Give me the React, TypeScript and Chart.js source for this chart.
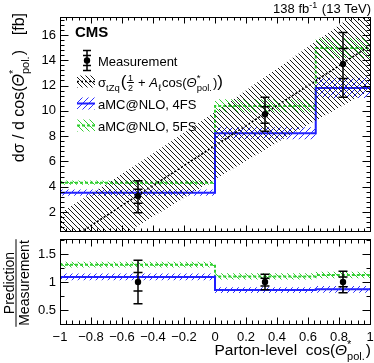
import React, { useEffect, useRef } from "react";
import { Chart, registerables } from "chart.js";
Chart.register(...registerables);

// ---------- data ----------
const binEdges = [-1, 0, 0.65, 1];
const measX = [-0.5, 0.325, 0.825];
const measY = [3.27, 9.73, 13.71];
const measTotUp = [1.21, 1.34, 2.49];
const measTotDown = [1.32, 1.34, 2.64];
const measStatUp = [0.53, 0.6, 1.21];
const measStatDown = [0.57, 0.71, 1.16];

const pred4FS = [3.53, 8.23, 11.81];
const pred4FSErr = [0.25, 0.48, 0.8];
const pred5FS = [4.32, 10.39, 14.97];
const pred5FSErr = [0.17, 0.53, 0.8];

const theoryX = [-1, -0.5, 0, 0.5, 1];
const theoryCentral = [-0.65, 3.3, 7.25, 11.2, 15.15];
const theoryUp = [1.9, 5.8, 9.9, 14.2, 18.5];
const theoryDown = [-3.3, 0.9, 4.6, 8.2, 11.6];

const ratio4FS = [1.09, 0.855, 0.87];
const ratio4FSErr = [0.06, 0.05, 0.06];
const ratio5FS = [1.31, 1.1, 1.125];
const ratio5FSErr = [0.05, 0.055, 0.06];
const ratioMeas = [1, 1, 1];
const ratioTotUp = [0.39, 0.14, 0.19];
const ratioTotDown = [0.39, 0.14, 0.19];
const ratioStatUp = [0.17, 0.065, 0.09];
const ratioStatDown = [0.16, 0.07, 0.085];

const xTicks = [-1, -0.8, -0.6, -0.4, -0.2, 0, 0.2, 0.4, 0.6, 0.8, 1];
const xTickLabels = ["−1", "−0.8", "−0.6", "−0.4", "−0.2", "0", "0.2", "0.4", "0.6", "0.8", "1"];
const upperYTicks = [2, 4, 6, 8, 10, 12, 14, 16];
const upperYTickLabels = ["2", "4", "6", "8", "10", "12", "14", "16"];
const lowerYTicks = [0.5, 1, 1.5];
const lowerYTickLabels = ["0.5", "1", "1.5"];

// ---------- styles ----------
const FF = '"Liberation Sans", Arial, Helvetica, sans-serif';
const BLUE = "#1f1fff";
const GREEN = "#2fd02f";

function makeHatch(color: string, s: number, dir: "back" | "fwd", lw = 1) {
  const c = document.createElement("canvas");
  c.width = s;
  c.height = s;
  const g = c.getContext("2d")!;
  g.strokeStyle = color;
  g.lineWidth = lw;
  g.beginPath();
  for (const k of [-1, 0, 1]) {
    if (dir === "back") {
      g.moveTo(k * s, 0);
      g.lineTo(k * s + s, s);
    } else {
      g.moveTo(k * s, s);
      g.lineTo(k * s + s, 0);
    }
  }
  g.stroke();
  return g.createPattern(c, "repeat")!;
}

const stepData = (vals: number[]) =>
  binEdges.map((x, i) => ({ x, y: vals[Math.max(0, i - 1)] }));

function bandDatasets(vals: number[], errs: number[], pattern: any, lineColor: string, dash: number[]) {
  return [
    { data: stepData(vals.map((v, i) => v + errs[i])), stepped: "after", borderWidth: 0, borderColor: "rgba(0,0,0,0)", pointRadius: 0, fill: false },
    { data: stepData(vals.map((v, i) => v - errs[i])), stepped: "after", borderWidth: 0, borderColor: "rgba(0,0,0,0)", pointRadius: 0, fill: "-1", backgroundColor: pattern },
    { data: stepData(vals), stepped: "after", borderWidth: 2, borderColor: lineColor, borderDash: dash, pointRadius: 0, fill: false },
  ];
}

// ---------- rich text ----------
type Seg = { t?: string; size: number; italic?: boolean; bold?: boolean; sup?: string; sub?: string; supDy?: number; subDy?: number; frac?: [string, string] };
const fnt = (s: { size: number; italic?: boolean; bold?: boolean }) =>
  `${s.italic ? "italic " : ""}${s.bold ? "bold " : ""}${s.size}px ${FF}`;

function segW(ctx: CanvasRenderingContext2D, s: Seg) {
  ctx.font = fnt(s);
  if (s.frac) return Math.max(ctx.measureText(s.frac[0]).width, ctx.measureText(s.frac[1]).width) + 3;
  if (s.sup !== undefined || s.sub !== undefined)
    return Math.max(s.sup ? ctx.measureText(s.sup).width : 0, s.sub ? ctx.measureText(s.sub).width : 0) + 1;
  return ctx.measureText(s.t || "").width;
}

function drawSegs(ctx: CanvasRenderingContext2D, segs: Seg[], x: number, y: number, align: "left" | "right" | "center") {
  const ws = segs.map((s) => segW(ctx, s));
  const total = ws.reduce((a, b) => a + b, 0);
  let cx = align === "right" ? x - total : align === "center" ? x - total / 2 : x;
  ctx.textAlign = "left";
  ctx.textBaseline = "alphabetic";
  segs.forEach((s, i) => {
    ctx.font = fnt(s);
    if (s.frac) {
      const w = ws[i];
      ctx.textAlign = "center";
      ctx.fillText(s.frac[0], cx + w / 2, y - 5.5);
      ctx.fillText(s.frac[1], cx + w / 2, y + 4.5);
      ctx.textAlign = "left";
      ctx.fillRect(cx + 0.5, y - 4.5, w - 1, 1);
    } else if (s.sup !== undefined || s.sub !== undefined) {
      if (s.sup) ctx.fillText(s.sup, cx, y + (s.supDy ?? -6));
      if (s.sub) ctx.fillText(s.sub, cx, y + (s.subDy ?? 4));
    } else {
      ctx.fillText(s.t || "", cx, y);
    }
    cx += ws[i];
  });
  return total;
}

function drawRotated(ctx: CanvasRenderingContext2D, segs: Seg[], X: number, Y: number, align: "left" | "right" | "center") {
  ctx.save();
  ctx.translate(X, Y);
  ctx.rotate(-Math.PI / 2);
  const w = drawSegs(ctx, segs, 0, 0, align);
  ctx.restore();
  return w;
}

// ---------- axes decoration ----------
type TickOpts = { xMinorStep: number; yMajor: number[]; yMinorStep: number; yMin: number; yMax: number; xMaj: number; xMin: number; yMaj: number; yMinLen: number };

function minorVals(min: number, max: number, step: number) {
  const out: number[] = [];
  for (let n = Math.ceil(min / step - 1e-6); n <= Math.floor(max / step + 1e-6); n++) out.push(n * step);
  return out;
}

function drawFrame(chart: any, o: TickOpts) {
  const { ctx, chartArea: a, scales } = chart;
  const xs = scales.x, ys = scales.y;
  ctx.save();
  ctx.strokeStyle = "#000";
  ctx.lineWidth = 1;
  const L = Math.round(a.left) + 0.5, R = Math.round(a.right) + 0.5, T = Math.round(a.top) + 0.5, B = Math.round(a.bottom) + 0.5;
  ctx.beginPath();
  const xline = (v: number, len: number) => {
    const p = Math.round(xs.getPixelForValue(v)) + 0.5;
    ctx.moveTo(p, B); ctx.lineTo(p, B - len);
    ctx.moveTo(p, T); ctx.lineTo(p, T + len);
  };
  const yline = (v: number, len: number) => {
    const p = Math.round(ys.getPixelForValue(v)) + 0.5;
    ctx.moveTo(L, p); ctx.lineTo(L + len, p);
    ctx.moveTo(R, p); ctx.lineTo(R - len, p);
  };
  minorVals(-1, 1, o.xMinorStep).forEach((v) => xline(v, o.xMin));
  xTicks.forEach((v) => xline(v, o.xMaj));
  minorVals(o.yMin, o.yMax, o.yMinorStep).forEach((v) => yline(v, o.yMinLen));
  o.yMajor.forEach((v) => yline(v, o.yMaj));
  ctx.stroke();
  ctx.strokeRect(L, T, R - L, B - T);
  ctx.restore();
}

function drawYLabels(chart: any, vals: number[], labels: string[]) {
  const { ctx, chartArea: a, scales } = chart;
  ctx.save();
  ctx.fillStyle = "#000";
  ctx.font = `13px ${FF}`;
  ctx.textAlign = "right";
  ctx.textBaseline = "middle";
  vals.forEach((v, i) => ctx.fillText(labels[i], a.left - 4, scales.y.getPixelForValue(v)));
  ctx.restore();
}

function drawErrors(chart: any, xs: number[], ys: number[], tu: number[], td: number[], su: number[], sd: number[]) {
  const { ctx, chartArea: a, scales } = chart;
  ctx.save();
  ctx.beginPath();
  ctx.rect(a.left, a.top, a.right - a.left, a.bottom - a.top);
  ctx.clip();
  ctx.strokeStyle = "#000";
  ctx.lineWidth = 1.5;
  ctx.beginPath();
  xs.forEach((xv, i) => {
    const px = Math.round(scales.x.getPixelForValue(xv));
    const cap = (v: number) => {
      const p = scales.y.getPixelForValue(v);
      ctx.moveTo(px - 4.5, p); ctx.lineTo(px + 4.5, p);
    };
    const t = scales.y.getPixelForValue(ys[i] + tu[i]);
    const b = scales.y.getPixelForValue(ys[i] - td[i]);
    ctx.moveTo(px, t); ctx.lineTo(px, b);
    cap(ys[i] + tu[i]); cap(ys[i] - td[i]);
    cap(ys[i] + su[i]); cap(ys[i] - sd[i]);
  });
  ctx.stroke();
  ctx.fillStyle = "#000";
  xs.forEach((xv, i) => {
    ctx.beginPath();
    ctx.arc(Math.round(scales.x.getPixelForValue(xv)), scales.y.getPixelForValue(ys[i]), 3.2, 0, Math.PI * 2);
    ctx.fill();
  });
  ctx.restore();
}

export default function App() {
  const upRef = useRef<HTMLCanvasElement>(null);
  const loRef = useRef<HTMLCanvasElement>(null);

  useEffect(() => {
    const hBlack = makeHatch("#1a1a1a", 5, "back");
    const hBlue = makeHatch("#3030ff", 6, "fwd");
    const hGreen = makeHatch("#33cc33", 6, "back");

    const upperPlugin = {
      id: "upperDeco",
      afterDatasetsDraw(chart: any) {
        drawErrors(chart, measX, measY, measTotUp, measTotDown, measStatUp, measStatDown);
      },
      afterDraw(chart: any) {
        const ctx: CanvasRenderingContext2D = chart.ctx;
        drawFrame(chart, { xMinorStep: 0.04, yMajor: upperYTicks, yMinorStep: 0.4, yMin: 0.5, yMax: 17.42, xMaj: 6, xMin: 3, yMaj: 8, yMinLen: 4 });
        drawYLabels(chart, upperYTicks, upperYTickLabels);
        ctx.save();
        ctx.fillStyle = "#000";
        // lumi label
        drawSegs(ctx, [{ t: "138 fb", size: 13 }, { sup: "-1", size: 9, supDy: -5 }, { t: " (13 TeV)", size: 13 }], 371, 13, "right");
        // CMS
        ctx.font = `bold 15px ${FF}`;
        ctx.textAlign = "left";
        ctx.fillText("CMS", 75, 37);
        // y title
        drawRotated(ctx, [{ t: "[fb]", size: 16 }], 24, 13, "right");
        drawRotated(ctx, [
          { t: "dσ / d cos(", size: 16 },
          { t: "Θ", size: 16, italic: true },
          { sup: "*", sub: "pol.", size: 11, supDy: -7, subDy: 4.5 },
          { t: ")", size: 16 },
        ], 24, 50, "right");

        // legend
        const lx0 = 77, lw = 18, tx = 98;
        // Measurement
        const mx = 87, my = 60.5;
        ctx.strokeStyle = "#000";
        ctx.lineWidth = 1.5;
        ctx.beginPath();
        ctx.moveTo(mx, my - 10); ctx.lineTo(mx, my + 10);
        [my - 10, my - 5, my + 5, my + 10].forEach((yy) => { ctx.moveTo(mx - 4, yy); ctx.lineTo(mx + 4, yy); });
        ctx.stroke();
        ctx.beginPath(); ctx.arc(mx, my, 3.2, 0, Math.PI * 2); ctx.fill();
        ctx.font = `13px ${FF}`;
        ctx.textBaseline = "alphabetic";
        ctx.fillText("Measurement", tx, my + 5);
        // theory
        const entry = (cy: number, pat: any, color: string, dash: number[], lwid: number) => {
          ctx.save();
          ctx.fillStyle = pat;
          ctx.fillRect(lx0, cy - 6, lw, 12);
          ctx.strokeStyle = color;
          ctx.lineWidth = lwid;
          ctx.setLineDash(dash);
          ctx.beginPath(); ctx.moveTo(lx0, cy); ctx.lineTo(lx0 + lw, cy); ctx.stroke();
          ctx.restore();
        };
        entry(81.5, hBlack, "#000", [2, 2], 1.5);
        drawSegs(ctx, [
          { t: "σ", size: 13 },
          { sub: "tZq", size: 9.5, subDy: 4 },
          { t: "(", size: 17 },
          { frac: ["1", "2"], size: 9 },
          { t: " + ", size: 13 },
          { t: "A", size: 13, italic: true },
          { sub: "ℓ", size: 9.5, subDy: 4 },
          { t: "cos(", size: 13 },
          { t: "Θ", size: 13, italic: true },
          { sup: "*", sub: "pol.", size: 9.5, supDy: -6, subDy: 4 },
          { t: ")", size: 13 },
          { t: ")", size: 17 },
        ], tx, 86.5, "left");
        entry(103.5, hBlue, BLUE, [], 2);
        ctx.fillStyle = "#000";
        ctx.font = `13px ${FF}`;
        ctx.fillText("aMC@NLO, 4FS", tx, 108.5);
        entry(125.5, hGreen, GREEN, [3, 2], 2);
        ctx.fillStyle = "#000";
        ctx.font = `13px ${FF}`;
        ctx.fillText("aMC@NLO, 5FS", tx, 130.5);
        ctx.restore();
      },
    };

    const lowerPlugin = {
      id: "lowerDeco",
      afterDatasetsDraw(chart: any) {
        drawErrors(chart, measX, ratioMeas, ratioTotUp, ratioTotDown, ratioStatUp, ratioStatDown);
      },
      afterDraw(chart: any) {
        const ctx: CanvasRenderingContext2D = chart.ctx;
        const a = chart.chartArea;
        drawFrame(chart, { xMinorStep: 0.04, yMajor: lowerYTicks, yMinorStep: 0.25, yMin: 0.25, yMax: 1.768, xMaj: 7, xMin: 4, yMaj: 8, yMinLen: 4 });
        drawYLabels(chart, lowerYTicks, lowerYTickLabels);
        ctx.save();
        ctx.fillStyle = "#000";
        ctx.font = `13px ${FF}`;
        ctx.textAlign = "center";
        ctx.textBaseline = "alphabetic";
        xTicks.forEach((v, i) => ctx.fillText(xTickLabels[i], chart.scales.x.getPixelForValue(v), a.bottom + 17));
        drawSegs(ctx, [
          { t: "Parton-level  cos(", size: 15.5 },
          { t: "Θ", size: 15.5, italic: true },
          { sup: "*", sub: "pol.", size: 11, supDy: -7, subDy: 4.5 },
          { t: ")", size: 15.5 },
        ], 371, a.bottom + 31, "right");
        // fraction title
        const cy = 51;
        drawRotated(ctx, [{ t: "Prediction", size: 14 }], 14, cy, "center");
        ctx.font = `14px ${FF}`;
        const mw = ctx.measureText("Measurement").width;
        drawRotated(ctx, [{ t: "Measurement", size: 14 }], 29, cy, "center");
        ctx.fillRect(15.5, cy - mw / 2 - 1, 1, mw + 2);
        ctx.restore();
      },
    };

    const common = (yMin: number, yMax: number, pad: any) => ({
      animation: false,
      responsive: false,
      maintainAspectRatio: false,
      devicePixelRatio: 1,
      layout: { padding: pad },
      plugins: { legend: { display: false }, tooltip: { enabled: false } },
      scales: {
        x: { type: "linear", min: -1, max: 1, display: false },
        y: { type: "linear", min: yMin, max: yMax, display: false },
      },
      elements: { line: { tension: 0 }, point: { radius: 0 } },
    });

    const c1 = new Chart(upRef.current!, {
      type: "line",
      data: {
        datasets: [
          { data: measX.map((x, i) => ({ x, y: measY[i] })), showLine: false, pointRadius: 0, fill: false },
          { data: theoryX.map((x, i) => ({ x, y: theoryUp[i] })), borderWidth: 0, borderColor: "rgba(0,0,0,0)", pointRadius: 0, fill: false },
          { data: theoryX.map((x, i) => ({ x, y: theoryDown[i] })), borderWidth: 0, borderColor: "rgba(0,0,0,0)", pointRadius: 0, fill: "-1", backgroundColor: hBlack },
          { data: theoryX.map((x, i) => ({ x, y: theoryCentral[i] })), borderWidth: 1.6, borderColor: "#000", borderDash: [2, 2], pointRadius: 0, fill: false },
          ...bandDatasets(pred4FS, pred4FSErr, hBlue, BLUE, []),
          ...bandDatasets(pred5FS, pred5FSErr, hGreen, GREEN, [3, 2]),
        ] as any,
      },
      options: common(0.5, 17.42, { left: 60, right: 4, top: 17, bottom: 1 }) as any,
      plugins: [upperPlugin],
    });

    const c2 = new Chart(loRef.current!, {
      type: "line",
      data: {
        datasets: [
          { data: measX.map((x, i) => ({ x, y: ratioMeas[i] })), showLine: false, pointRadius: 0, fill: false },
          ...bandDatasets(ratio4FS, ratio4FSErr, hBlue, BLUE, []),
          ...bandDatasets(ratio5FS, ratio5FSErr, hGreen, GREEN, [3, 2]),
        ] as any,
      },
      options: common(0.25, 1.768, { left: 60, right: 4, top: 7, bottom: 39 }) as any,
      plugins: [lowerPlugin],
    });

    return () => {
      c1.destroy();
      c2.destroy();
    };
  }, []);

  return (
    <div style={{ position: "absolute", left: 0, top: 0, width: 374, height: 363, background: "#fff" }}>
      <canvas ref={upRef} width={374} height={232} style={{ position: "absolute", left: 0, top: 0, width: 374, height: 232 }} />
      <canvas ref={loRef} width={374} height={131} style={{ position: "absolute", left: 0, top: 232, width: 374, height: 131 }} />
    </div>
  );
}
